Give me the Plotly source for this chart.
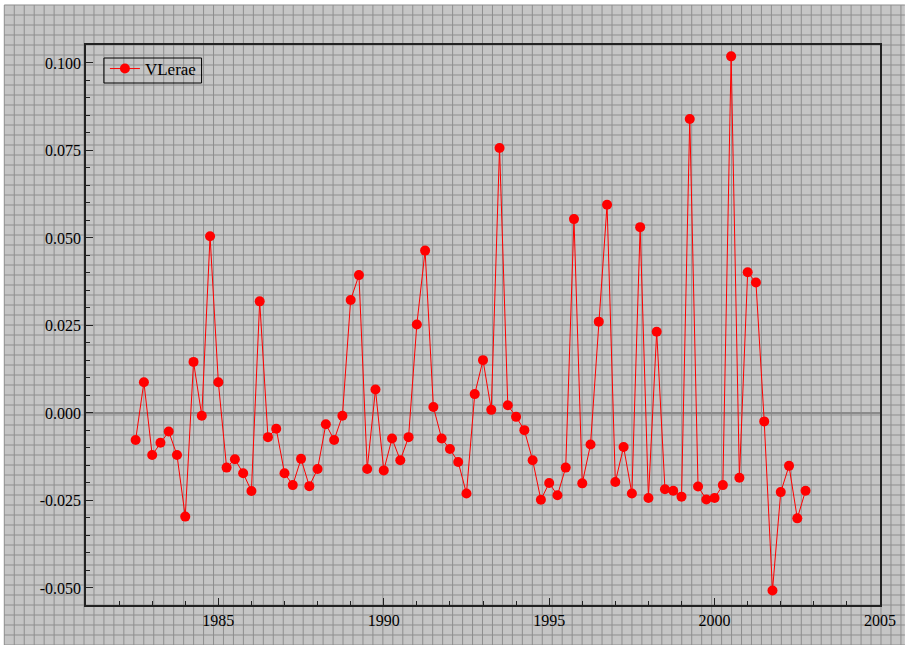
import plotly.graph_objects as go

# ---- data (quarterly) ----
start_year = 1982.5
values = [
    -0.0077, 0.0088, -0.0120, -0.0085, -0.0053, -0.0120, -0.0296, 0.0146,
    -0.0008, 0.0505, 0.0088, -0.0156, -0.0132, -0.0172, -0.0223, 0.0319,
    -0.0069, -0.0045, -0.0172, -0.0206, -0.0131, -0.0209, -0.0160, -0.0032,
    -0.0077, -0.0008, 0.0323, 0.0394, -0.0160, 0.0067, -0.0164, -0.0073,
    -0.0135, -0.0069, 0.0253, 0.0464, 0.0017, -0.0073, -0.0103, -0.0140,
    -0.0230, 0.0054, 0.0151, 0.0009, 0.0757, 0.0022, -0.0011, -0.0049,
    -0.0135, -0.0248, -0.0200, -0.0235, -0.0156, 0.0554, -0.0201, -0.0090,
    0.0261, 0.0595, -0.0197, -0.0097, -0.0230, 0.0531, -0.0243, 0.0232,
    -0.0218, -0.0222, -0.0239, 0.0840, -0.0210, -0.0247, -0.0243, -0.0206,
    0.1019, -0.0185, 0.0402, 0.0373, -0.0024, -0.0507, -0.0226, -0.0151,
    -0.0301, -0.0222,
]
dates = [start_year + 0.25 * i for i in range(len(values))]
series_name = "VLerae"

y_tickvals = [-0.05, -0.025, 0.0, 0.025, 0.05, 0.075, 0.1]
y_ticktext = ["-0.050", "-0.025", "0.000", "0.025", "0.050", "0.075", "0.100"]
x_tickvals = [1985, 1990, 1995, 2000, 2005]
x_ticktext = ["1985", "1990", "1995", "2000", "2005"]

# ---- layout geometry ----
W, H = 908, 645
ML, MR, MT, MB = 86, 25, 45, 40
PW, PH = W - ML - MR, H - MT - MB


def fx(px):
    return (px - ML) / PW


def fy(py):
    return (H - MB - py) / PH


# background texture grid (decorative, pixel based)
path = []
for x in range(4, W + 1, 10):
    path.append(f"M{fx(x):.5f},{fy(5):.5f}L{fx(x):.5f},{fy(H):.5f}")
for y in range(5, H + 1, 10):
    path.append(f"M{fx(4):.5f},{fy(y):.5f}L{fx(W):.5f},{fy(y):.5f}")

shapes = [
    dict(type="rect", xref="paper", yref="paper", x0=fx(4), x1=fx(W), y0=fy(5), y1=fy(H),
         fillcolor="#c5c5c5", line=dict(width=0), layer="below"),
    dict(type="path", xref="paper", yref="paper", path="".join(path),
         line=dict(color="#8e8e8e", width=1), layer="below"),
    # legend frame
    dict(type="rect", xref="paper", yref="paper", x0=fx(104), x1=fx(202), y0=fy(58), y1=fy(83),
         fillcolor="rgba(0,0,0,0)", line=dict(color="#000000", width=1), layer="above"),
]

fig = go.Figure()
fig.add_trace(go.Scatter(
    x=dates, y=values, mode="lines+markers", name=series_name,
    line=dict(color="#ff0000", width=1),
    marker=dict(color="#ff0000", size=10),
))

font = dict(family="Liberation Serif", size=16, color="#000000")
legend_font = dict(family="Liberation Serif", size=17, color="#000000")

fig.update_layout(
    width=W, height=H,
    margin=dict(l=ML, r=MR, t=MT, b=MB, pad=0),
    paper_bgcolor="#ffffff",
    plot_bgcolor="rgba(0,0,0,0)",
    font=font,
    shapes=shapes,
    showlegend=True,
    legend=dict(x=fx(105), y=fy(51), xanchor="left", yanchor="top",
                bgcolor="rgba(0,0,0,0)", borderwidth=0,
                font=legend_font, itemwidth=30, tracegroupgap=0),
    xaxis=dict(
        range=[1981, 2005], showgrid=False, zeroline=False,
        showline=True, linecolor="#222222", linewidth=1.5, mirror=True,
        ticks="inside", ticklen=7, tickcolor="#222222", tickwidth=1,
        tickmode="array", tickvals=x_tickvals, ticktext=x_ticktext,
        minor=dict(tickmode="linear", tick0=1981, dtick=1, ticks="inside",
                   ticklen=4, tickcolor="#222222", showgrid=False),
        tickfont=font,
    ),
    yaxis=dict(
        range=[-0.05486, 0.10514], showgrid=False,
        zeroline=True, zerolinecolor="#8a8a8a", zerolinewidth=1.5,
        showline=True, linecolor="#222222", linewidth=1.5, mirror=True,
        ticks="inside", ticklen=7, tickcolor="#222222", tickwidth=1,
        tickmode="array", tickvals=y_tickvals, ticktext=y_ticktext,
        minor=dict(tickmode="linear", tick0=0, dtick=0.005, ticks="inside",
                   ticklen=4, tickcolor="#222222", showgrid=False),
        tickfont=font,
    ),
)

fig.write_html(
    "out.html",
    config={"displayModeBar": False},
    post_script="document.body.style.margin='0';document.body.style.overflow='hidden';",
)
